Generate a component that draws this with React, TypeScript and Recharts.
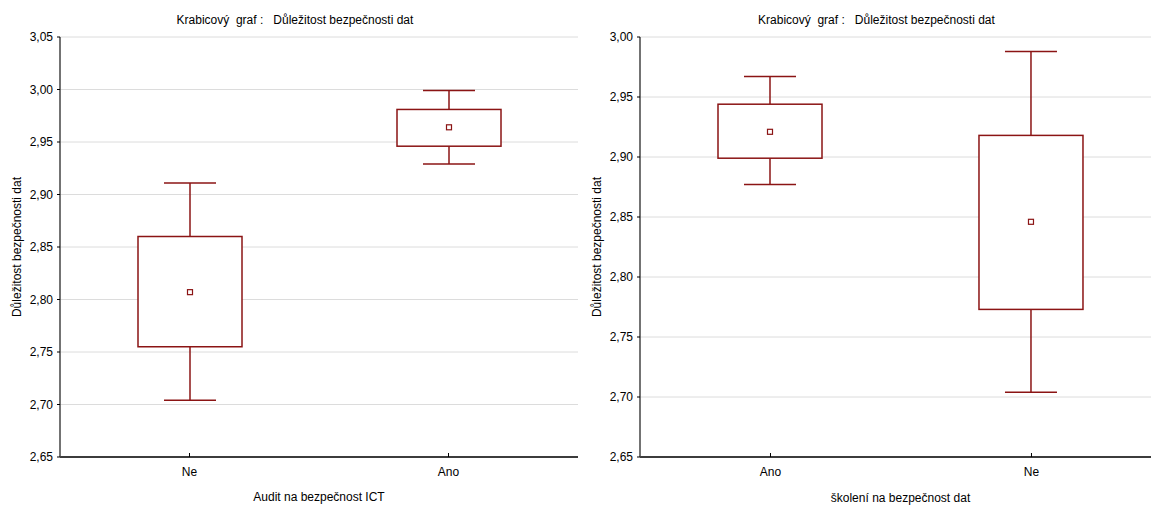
import {
  ComposedChart, Bar, XAxis, YAxis, CartesianGrid, Label,
} from 'recharts';

const FONT = '"Liberation Sans", Arial, sans-serif';
const BOX_COLOR = '#8b1414';
const GRID = '#dcdcdc';

// Audit na bezpečnost ICT
const auditCats = ['Ne', 'Ano'];
const auditMin = [2.704, 2.929];
const auditQ1 = [2.755, 2.946];
const auditMean = [2.807, 2.964];
const auditQ3 = [2.86, 2.981];
const auditMax = [2.911, 2.999];
const auditTicks = [2.65, 2.7, 2.75, 2.8, 2.85, 2.9, 2.95, 3.0, 3.05];

// školení na bezpečnost dat
const skoleniCats = ['Ano', 'Ne'];
const skoleniMin = [2.877, 2.704];
const skoleniQ1 = [2.899, 2.773];
const skoleniMean = [2.921, 2.846];
const skoleniQ3 = [2.944, 2.918];
const skoleniMax = [2.967, 2.988];
const skoleniTicks = [2.65, 2.7, 2.75, 2.8, 2.85, 2.9, 2.95, 3.0];

const TITLE = 'Krabicový  graf :   Důležitost bezpečnosti dat';
const Y_LABEL = 'Důležitost bezpečnosti dat';

interface Row {
  idx: number;
  cat: string;
  range: [number, number];
  min: number;
  q1: number;
  mean: number;
  q3: number;
  max: number;
}

function buildRows(cats: string[], min: number[], q1: number[], mean: number[], q3: number[], max: number[]): Row[] {
  return cats.map((c, i) => ({
    idx: i,
    cat: c,
    range: [min[i], max[i]],
    min: min[i], q1: q1[i], mean: mean[i], q3: q3[i], max: max[i],
  }));
}

const fmt = (v: number) => v.toFixed(2).replace('.', ',');

// box + whiskers drawn from the range bar (min..max) geometry
function BoxShape(props: any) {
  const { x, y, width, height, payload } = props;
  const top = Math.min(y, y + height);
  const bottom = Math.max(y, y + height);
  const d: Row = payload;
  const k = (bottom - top) / (d.max - d.min);
  const py = (v: number) => bottom - (v - d.min) * k;
  const cx = x + width / 2;
  const cap = width / 4;
  const yq1 = py(d.q1);
  const yq3 = py(d.q3);
  const ym = py(d.mean);
  return (
    <g stroke={BOX_COLOR} strokeWidth={1.5} fill="none">
      <line x1={cx} x2={cx} y1={top} y2={yq3} />
      <line x1={cx} x2={cx} y1={yq1} y2={bottom} />
      <line x1={cx - cap} x2={cx + cap} y1={top} y2={top} />
      <line x1={cx - cap} x2={cx + cap} y1={bottom} y2={bottom} />
      <rect x={x} y={yq3} width={width} height={yq1 - yq3} fill="#fff" />
      <rect x={cx - 2.5} y={ym - 2.5} width={5} height={5} fill="#fff" strokeWidth={1.2} />
    </g>
  );
}

function BottomTick(props: any) {
  const { x, y, payload, cats } = props;
  return (
    <g>
      <line x1={x} x2={x} y1={y} y2={y - 4} stroke="#000" />
      <text x={x} y={y + 19} textAnchor="middle" fontSize={12} fill="#000">{cats[payload.value]}</text>
    </g>
  );
}

function YLabel(props: any) {
  const vb = props.viewBox;
  const cx = vb.x + 9;
  const cy = vb.y + vb.height / 2;
  return (
    <text x={cx} y={cy} transform={`rotate(-90 ${cx} ${cy})`} textAnchor="middle"
      dominantBaseline="central" fontSize={12} fill="#000">
      {Y_LABEL}
    </text>
  );
}

function BoxChart({ rows, cats, ticks, xLabel, width, xMax, marginRight, labelOffset, labelDx, rightFrame }: {
  rows: Row[]; cats: string[]; ticks: number[]; xLabel: string; width: number;
  xMax: number; marginRight: number; labelOffset: number; labelDx: number; rightFrame: boolean;
}) {
  const domain: [number, number] = [ticks[0], ticks[ticks.length - 1]];
  const xDomain: [number, number] = [-0.5, xMax];
  const xTicks = cats.map((_, i) => i);
  return (
    <ComposedChart width={width} height={505} data={rows}
      margin={{ top: 37, right: marginRight, bottom: 0, left: 8 }}>
      <CartesianGrid vertical={false} stroke={GRID} />
      <XAxis dataKey="idx" type="number" domain={xDomain} ticks={xTicks} allowDataOverflow
        height={48} tickLine={false} tickSize={0} tickMargin={0} interval={0}
        tick={<BottomTick cats={cats} />} axisLine={{ stroke: '#000', strokeWidth: 1.5 }}>
        <Label value={xLabel} position="insideBottom" offset={labelOffset} dx={labelDx}
          fontSize={12} fill="#000" />
      </XAxis>
      <XAxis xAxisId="top" dataKey="idx" type="number" domain={xDomain} ticks={xTicks} allowDataOverflow
        orientation="top" height={0} mirror tick={false} interval={0}
        tickSize={4} tickLine={{ stroke: '#000' }} axisLine={{ stroke: '#000', strokeWidth: 1.5 }} />
      <YAxis type="number" domain={domain} ticks={ticks} allowDataOverflow width={52}
        tickFormatter={fmt} tickSize={3} tickMargin={4} interval={0}
        tick={{ fontSize: 12, fill: '#000' }} tickLine={{ stroke: '#000' }}
        axisLine={{ stroke: '#444', strokeWidth: 1.5 }}
        label={<Label content={<YLabel />} />} />
      {rightFrame && (
        <YAxis yAxisId="right" orientation="right" type="number" domain={domain} ticks={ticks}
          allowDataOverflow width={0} tick={false} tickSize={3} interval={0}
          tickLine={{ stroke: '#000' }} axisLine={{ stroke: '#000', strokeWidth: 1.5 }} />
      )}
      <Bar dataKey="range" barSize={104} shape={<BoxShape />} isAnimationActive={false} />
    </ComposedChart>
  );
}

export default function App() {
  const auditRows = buildRows(auditCats, auditMin, auditQ1, auditMean, auditQ3, auditMax);
  const skoleniRows = buildRows(skoleniCats, skoleniMin, skoleniQ1, skoleniMean, skoleniQ3, skoleniMax);
  const titleStyle: React.CSSProperties = {
    position: 'absolute', top: 12, fontSize: 12, lineHeight: '16px',
    textAlign: 'center', whiteSpace: 'pre', color: '#000',
  };
  return (
    <div style={{
      position: 'absolute', left: 0, top: 0, width: 1151, height: 505,
      overflow: 'hidden', background: '#fff', fontFamily: FONT,
    }}>
      <div style={{ position: 'absolute', left: 0, top: 0 }}>
        <BoxChart rows={auditRows} cats={auditCats} ticks={auditTicks} xLabel="Audit na bezpečnost ICT"
          width={590} xMax={1.5} marginRight={12} labelOffset={4} labelDx={0} rightFrame />
      </div>
      <div style={{ position: 'absolute', left: 580, top: 0 }}>
        {/* right panel is cut by the picture edge: visible x range stops short of 1.5 */}
        <BoxChart rows={skoleniRows} cats={skoleniCats} ticks={skoleniTicks} xLabel="školení na bezpečnost dat"
          width={571} xMax={1.458} marginRight={0} labelOffset={3} labelDx={5} rightFrame={false} />
      </div>
      <div style={{ ...titleStyle, left: 36, width: 518 }}>{TITLE}</div>
      <div style={{ ...titleStyle, left: 616, width: 521 }}>{TITLE}</div>
    </div>
  );
}
